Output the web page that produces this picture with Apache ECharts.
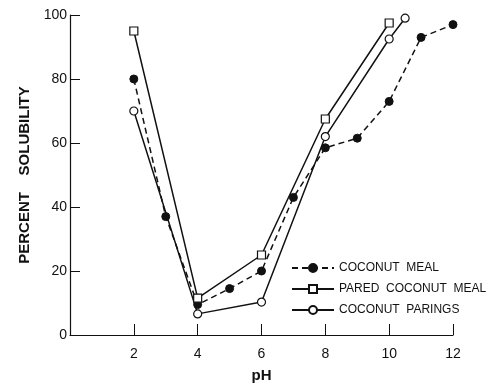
<!DOCTYPE html>
<html><head><meta charset="utf-8">
<script src="https://cdn.jsdelivr.net/npm/echarts@6/dist/echarts.min.js"></script>
<style>html,body{margin:0;padding:0;background:#fff}#c{width:487px;height:385px}</style>
</head><body><div id="c"></div>
<script>
const mealPH = [2, 3, 4, 5, 6, 7, 8, 9, 10, 11, 12];
const mealVal = [80, 37, 9.5, 14.5, 20, 43, 58.5, 61.5, 73, 93, 97];
const paredPH = [2, 4, 6, 8, 10];
const paredVal = [95, 11.5, 25, 67.5, 97.5];
const paringsPH = [2, 4, 6, 8, 10, 10.5];
const paringsVal = [70, 6.6, 10.3, 62, 92.5, 99];
const xTicks = [2, 4, 6, 8, 10, 12];
const yTicks = [0, 20, 40, 60, 80, 100];
const names = ['COCONUT  MEAL', 'PARED  COCONUT  MEAL', 'COCONUT  PARINGS'];

const zip = (a, b) => a.map((v, i) => [v, b[i]]);
const font = 'Liberation Sans, Arial, sans-serif';
const chart = echarts.init(document.getElementById('c'));
chart.setOption({
  animation: false,
  backgroundColor: '#fff',
  grid: {left: 70, top: 15, right: 34, bottom: 50, outerBoundsMode: 'none', containLabel: false},
  legend: {
    orient: 'vertical', left: 286, top: 257, itemGap: 9, itemWidth: 42, itemHeight: 10,
    textStyle: {fontFamily: font, fontSize: 12, color: '#111'},
    data: names
  },
  xAxis: {
    type: 'value', min: 0, max: 12, interval: 2,
    name: 'pH', nameLocation: 'middle', nameGap: 33,
    nameTextStyle: {fontFamily: font, fontSize: 15, color: '#111', fontWeight: 'bold'},
    axisLine: {lineStyle: {color: '#111', width: 1.2}},
    axisTick: {inside: true, length: 11, lineStyle: {color: '#111'}},
    axisLabel: {fontFamily: font, fontSize: 14, color: '#111', margin: 12,
      formatter: v => xTicks.includes(v) ? String(v) : ''},
    splitLine: {show: false}
  },
  yAxis: {
    type: 'value', min: 0, max: 100, interval: 20,
    name: 'PERCENT    SOLUBILITY', nameLocation: 'middle', nameGap: 29,
    nameTextStyle: {fontFamily: font, fontSize: 15, color: '#111', fontWeight: 'bold'},
    axisLine: {lineStyle: {color: '#111', width: 1.2}},
    axisTick: {inside: true, length: 10, lineStyle: {color: '#111'}},
    axisLabel: {fontFamily: font, fontSize: 14, color: '#111', margin: 3,
      formatter: v => yTicks.includes(v) ? String(v) : ''},
    splitLine: {show: false}
  },
  series: [
    {name: names[0], type: 'line', data: zip(mealPH, mealVal), symbol: 'circle', symbolSize: 8,
      lineStyle: {color: '#111', width: 1.5, type: [6, 4]},
      itemStyle: {color: '#111', borderColor: '#111', borderWidth: 1}},
    {name: names[1], type: 'line', data: zip(paredPH, paredVal), symbol: 'rect', symbolSize: 8,
      lineStyle: {color: '#111', width: 1.5},
      itemStyle: {color: '#fff', borderColor: '#111', borderWidth: 1.2}},
    {name: names[2], type: 'line', data: zip(paringsPH, paringsVal), symbol: 'circle', symbolSize: 8,
      lineStyle: {color: '#111', width: 1.5},
      itemStyle: {color: '#fff', borderColor: '#111', borderWidth: 1.2}}
  ]
});
</script></body></html>
